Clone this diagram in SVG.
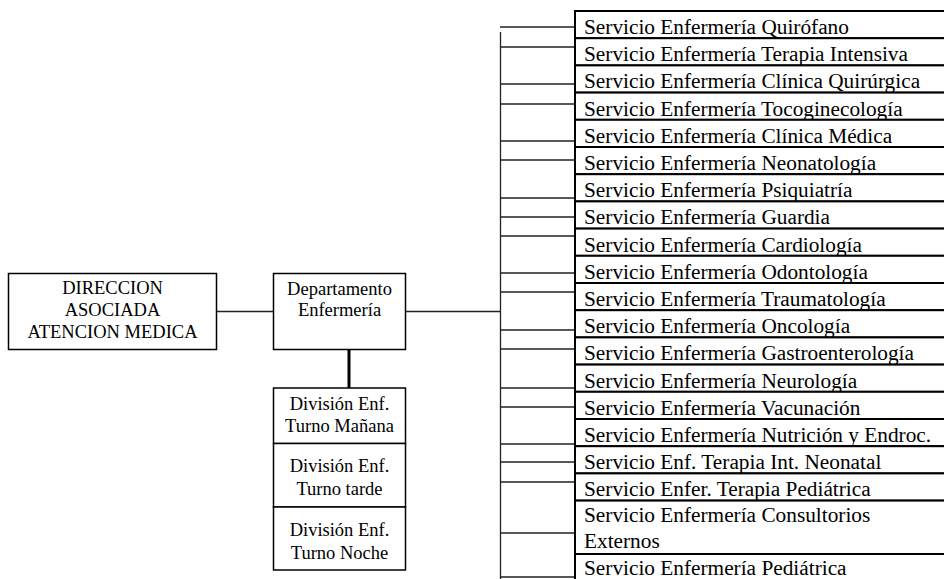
<svg xmlns="http://www.w3.org/2000/svg" width="944" height="579" viewBox="0 0 944 579">
<style>
.box{fill:#fff;stroke:#000;stroke-width:1.5}
.row{fill:#fff;stroke:#000;stroke-width:2}
.t{font-family:"Liberation Serif","Times New Roman",serif;font-size:18.5px;fill:#000;text-anchor:middle}
.r{font-family:"Liberation Serif","Times New Roman",serif;font-size:21.3px;fill:#000}
.c{stroke:#222;stroke-width:1.3;fill:none}
</style>
<rect width="944" height="579" fill="#fff"/>
<g id="connectors">
<line class="c" x1="217" y1="311.5" x2="273" y2="311.5"/>
<line class="c" x1="406" y1="311.5" x2="501" y2="311.5"/>
<line x1="349" y1="349" x2="349" y2="388" stroke="#000" stroke-width="3"/>
<line class="c" x1="500.5" y1="32" x2="500.5" y2="579"/>
<path class="c" d="M500 27H575M500 47H575M500 84H575M500 104H575M500 141H575M500 160H575M500 198H575M500 217H575M500 236H575M500 273H575M500 292H575M500 330H575M500 349H575M500 388H575M500 407H575M500 444H575M500 462H575M500 482H575M500 533H575M500 577H575"/>
</g>
<g id="direccion">
<rect class="box" x="8.5" y="273.5" width="208" height="76"/>
<text class="t" x="112.5" y="294">DIRECCION</text>
<text class="t" x="112.5" y="316">ASOCIADA</text>
<text class="t" x="112.5" y="338">ATENCION MEDICA</text>
</g>
<g id="departamento">
<rect class="box" x="273.5" y="273.5" width="132" height="76"/>
<text class="t" x="339.5" y="295">Departamento</text>
<text class="t" x="339.5" y="316">Enfermería</text>
</g>
<g id="div-manana">
<rect class="box" x="273.5" y="388" width="132" height="55.5"/>
<text class="t" x="339.5" y="410">División Enf.</text>
<text class="t" x="339.5" y="432">Turno Mañana</text>
</g>
<g id="div-tarde">
<rect class="box" x="273.5" y="443.5" width="132" height="63.5"/>
<text class="t" x="339.5" y="472">División Enf.</text>
<text class="t" x="339.5" y="495">Turno tarde</text>
</g>
<g id="div-noche">
<rect class="box" x="273.5" y="507" width="132" height="63"/>
<text class="t" x="339.5" y="536">División Enf.</text>
<text class="t" x="339.5" y="559">Turno Noche</text>
</g>
<g id="s01"><rect class="row" x="575" y="11" width="380" height="27.2"/><text class="r" x="584" y="34">Servicio Enfermería Quirófano</text></g>
<g id="s02"><rect class="row" x="575" y="38.2" width="380" height="27.2"/><text class="r" x="584" y="61.2">Servicio Enfermería Terapia Intensiva</text></g>
<g id="s03"><rect class="row" x="575" y="65.4" width="380" height="27.2"/><text class="r" x="584" y="88.4">Servicio Enfermería Clínica Quirúrgica</text></g>
<g id="s04"><rect class="row" x="575" y="92.6" width="380" height="27.2"/><text class="r" x="584" y="115.6">Servicio Enfermería Tocoginecología</text></g>
<g id="s05"><rect class="row" x="575" y="119.8" width="380" height="27.2"/><text class="r" x="584" y="142.8">Servicio Enfermería Clínica Médica</text></g>
<g id="s06"><rect class="row" x="575" y="147" width="380" height="27.2"/><text class="r" x="584" y="170">Servicio Enfermería Neonatología</text></g>
<g id="s07"><rect class="row" x="575" y="174.2" width="380" height="27.2"/><text class="r" x="584" y="197.2">Servicio Enfermería Psiquiatría</text></g>
<g id="s08"><rect class="row" x="575" y="201.4" width="380" height="27.2"/><text class="r" x="584" y="224.4">Servicio Enfermería Guardia</text></g>
<g id="s09"><rect class="row" x="575" y="228.6" width="380" height="27.2"/><text class="r" x="584" y="251.6">Servicio Enfermería Cardiología</text></g>
<g id="s10"><rect class="row" x="575" y="255.8" width="380" height="27.2"/><text class="r" x="584" y="278.8">Servicio Enfermería Odontología</text></g>
<g id="s11"><rect class="row" x="575" y="283" width="380" height="27.2"/><text class="r" x="584" y="306">Servicio Enfermería Traumatología</text></g>
<g id="s12"><rect class="row" x="575" y="310.2" width="380" height="27.2"/><text class="r" x="584" y="333.2">Servicio Enfermería Oncología</text></g>
<g id="s13"><rect class="row" x="575" y="337.4" width="380" height="27.2"/><text class="r" x="584" y="360.4">Servicio Enfermería Gastroenterología</text></g>
<g id="s14"><rect class="row" x="575" y="364.6" width="380" height="27.2"/><text class="r" x="584" y="387.6">Servicio Enfermería Neurología</text></g>
<g id="s15"><rect class="row" x="575" y="391.8" width="380" height="27.2"/><text class="r" x="584" y="414.8">Servicio Enfermería Vacunación</text></g>
<g id="s16"><rect class="row" x="575" y="419" width="380" height="27.2"/><text class="r" x="584" y="442">Servicio Enfermería Nutrición y Endroc.</text></g>
<g id="s17"><rect class="row" x="575" y="446.2" width="380" height="27.2"/><text class="r" x="584" y="469.2">Servicio Enf. Terapia Int. Neonatal</text></g>
<g id="s18"><rect class="row" x="575" y="473.4" width="380" height="27.2"/><text class="r" x="584" y="496.4">Servicio Enfer. Terapia Pediátrica</text></g>
<g id="s19"><rect class="row" x="575" y="500.6" width="380" height="53.4"/><text class="r" x="584" y="521.5">Servicio Enfermería Consultorios</text><text class="r" x="584" y="548">Externos</text></g>
<g id="s20"><rect class="row" x="575" y="554" width="380" height="30"/><text class="r" x="584" y="574.5">Servicio Enfermería Pediátrica</text></g>
</svg>
